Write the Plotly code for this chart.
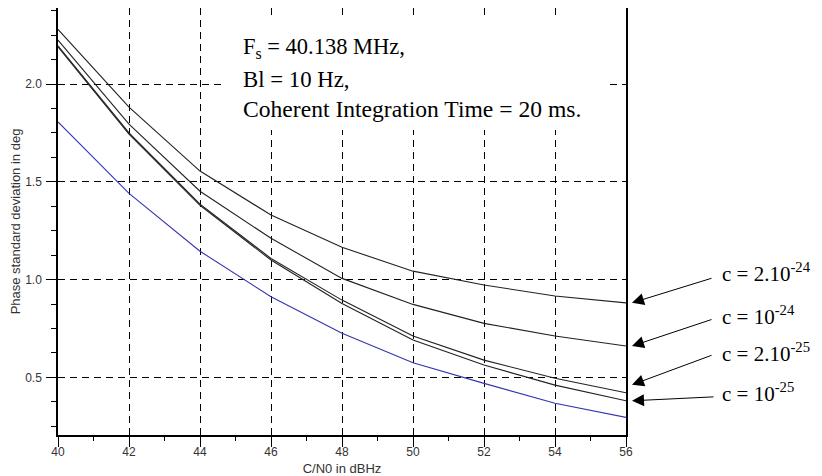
import plotly.graph_objects as go

# C/N0 in dBHz
cn0 = [40, 42, 44, 46, 48, 50, 52, 54, 56]
# Phase standard deviation in deg
sd_c_2e24 = [2.28, 1.882, 1.555, 1.330, 1.165, 1.043, 0.972, 0.916, 0.881]
sd_c_1e24 = [2.225, 1.795, 1.452, 1.211, 1.006, 0.873, 0.776, 0.711, 0.660]
sd_c_2e25 = [2.196, 1.750, 1.386, 1.108, 0.895, 0.711, 0.588, 0.495, 0.421]
sd_c_1e25 = [2.190, 1.744, 1.380, 1.100, 0.878, 0.691, 0.563, 0.460, 0.380]
sd_no_clock = [1.806, 1.441, 1.145, 0.912, 0.725, 0.575, 0.469, 0.367, 0.295]

labels = ["c = 2.10<sup>-24</sup>", "c = 10<sup>-24</sup>",
          "c = 2.10<sup>-25</sup>", "c = 10<sup>-25</sup>"]
black_series = [sd_c_2e24, sd_c_1e24, sd_c_2e25, sd_c_1e25]

fig = go.Figure()
for s in black_series:
    fig.add_trace(go.Scatter(x=cn0, y=s, mode="lines",
                             line=dict(color="#222222", width=1.1),
                             showlegend=False))
fig.add_trace(go.Scatter(x=cn0, y=sd_no_clock, mode="lines",
                         line=dict(color="#3535b0", width=1.1),
                         showlegend=False))

tickfont = dict(family="Liberation Sans, Arial", size=12, color="#333333")
grid = dict(showgrid=True, gridcolor="black", gridwidth=1, griddash="7px,5px")

fig.update_xaxes(range=[40, 56], dtick=2, tick0=40, ticks="outside", ticklen=10,
                 tickcolor="black", tickfont=tickfont, ticklabelstandoff=-5,
                 showline=True, linecolor="black", linewidth=1.5, mirror=True,
                 zeroline=False, automargin=False,
                 minor=dict(dtick=1, ticks="outside", ticklen=4, tickcolor="black", showgrid=False),
                 title=dict(text="C/N0 in dBHz", font=dict(family="Liberation Sans, Arial", size=13, color="#333333"), standoff=7),
                 **grid)
fig.update_yaxes(range=[0.205, 2.389], dtick=0.5, tick0=0, tickformat=".1f", ticks="outside", ticklen=10,
                 tickcolor="black", tickfont=tickfont, ticklabelstandoff=2,
                 showline=True, linecolor="black", linewidth=1.5, mirror=True,
                 zeroline=False, automargin=False,
                 minor=dict(dtick=0.125, tick0=0, ticks="outside", ticklen=5, tickcolor="black", showgrid=False),
                 title=dict(text="Phase standard deviation in deg", font=dict(family="Liberation Sans, Arial", size=13, color="#333333"), standoff=8),
                 **grid)

# white box behind the parameter text
fig.add_shape(type="rect", xref="paper", yref="paper",
              x0=0.2887, x1=0.9665, y0=0.7143, y1=0.9766,
              fillcolor="white", line=dict(width=0), layer="above")

serif_family = "Liberation Serif, Times New Roman, serif"
info = ["F<sub>s</sub> = 40.138 MHz,", "Bl = 10 Hz,", "Coherent Integration Time = 20 ms."]
info_y = [0.907, 0.8337, 0.7632]
info_size = [22.5, 22.8, 23.6]
for t, yy, fs in zip(info, info_y, info_size):
    fig.add_annotation(text=t, xref="paper", yref="paper", x=0.322, y=yy,
                       xanchor="left", yanchor="middle", showarrow=False,
                       font=dict(family=serif_family, size=fs, color="black"))

# labels and arrows to the end of each curve
label_y = [0.380, 0.2810, 0.1932, 0.100]
arrow_ax = [81, 81, 81, 83]
arrow_ay = [-25, -27, -30, -4]
arrow_yshift = [0, 0, 8, 0]
for lab, s, ly, ax, ay, ys in zip(labels, black_series, label_y, arrow_ax, arrow_ay, arrow_yshift):
    fig.add_annotation(text=lab, xref="paper", yref="paper", x=1.166, y=ly,
                       xanchor="left", yanchor="middle", showarrow=False,
                       font=dict(family=serif_family, size=21, color="black"))
    fig.add_annotation(text="", xref="x", yref="y", x=cn0[-1], y=s[-1],
                       xshift=6, yshift=ys, ax=ax, ay=ay, axref="pixel", ayref="pixel",
                       showarrow=True, arrowhead=2, arrowsize=2.4, arrowwidth=1,
                       arrowcolor="black")

# the page body adds an 8px offset, so the figure is sized to fit the window
fig.update_layout(width=814, height=468,
                  margin=dict(l=50, r=196, t=0, b=41, autoexpand=False),
                  paper_bgcolor="white", plot_bgcolor="white",
                  showlegend=False)

fig.write_html("out.html")
